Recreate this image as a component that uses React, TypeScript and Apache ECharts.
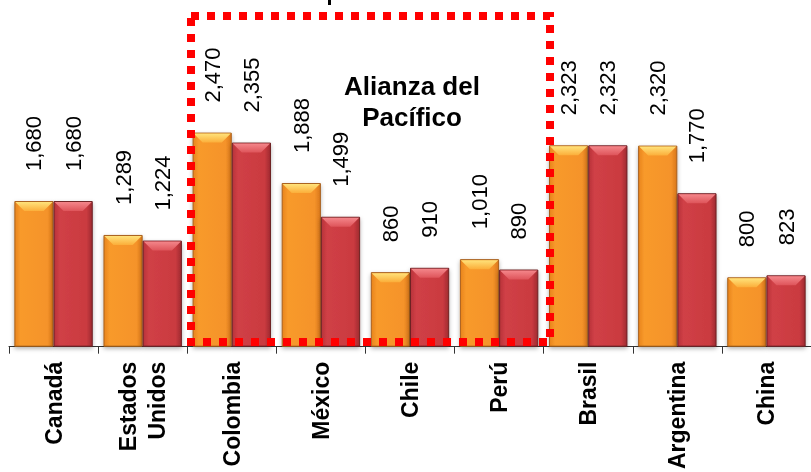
import React, { useEffect, useRef } from "react";
import * as echarts from "echarts";

const categories = ["Canadá", "Estados Unidos", "Colombia", "México", "Chile", "Perú", "Brasil", "Argentina", "China"];
const seriesA = [1680, 1289, 2470, 1888, 860, 1010, 2323, 2320, 800];
const seriesB = [1680, 1224, 2355, 1499, 910, 890, 2323, 1770, 823];
const groupLabel = "Alianza del\nPacífico";

const FONT = "'Liberation Sans', Arial, sans-serif";

const fmt = (v: number) => v.toLocaleString("en-US");

function bevelSeries(values: number[], side: number, top: string, bottom: string) {
  return {
    type: "custom",
    silent: true,
    z: 5,
    data: values.map((v, i) => [i, v]),
    encode: { x: 0, y: 1 },
    renderItem: (params: any, api: any) => {
      const idx = api.value(0);
      const val = api.value(1);
      const p = api.coord([idx, val]);
      const band = api.size([1, 0])[0];
      const w = band * 0.44;
      const x0 = side < 0 ? p[0] - w : p[0];
      const b = Math.min(10, w / 2);
      const y = p[1];
      return {
        type: "polygon",
        shape: {
          points: [
            [x0 + 1, y + 1],
            [x0 + w - 1, y + 1],
            [x0 + w - b, y + b],
            [x0 + b, y + b],
          ],
        },
        style: {
          fill: new echarts.graphic.LinearGradient(0, 0, 0, 1, [
            { offset: 0, color: top },
            { offset: 1, color: bottom },
          ]),
        },
      };
    },
  };
}

export default function App() {
  const ref = useRef<HTMLDivElement>(null);
  useEffect(() => {
    const chart = echarts.init(ref.current!, undefined, { renderer: "svg" });
    chart.setOption({
      animation: false,
      grid: { left: 9, top: 0, width: 810, height: 347 },
      xAxis: {
        type: "category",
        data: categories,
        axisLine: { lineStyle: { color: "#333", width: 1 } },
        axisTick: { show: true, length: 7, lineStyle: { color: "#333" } },
        axisLabel: {
          interval: 0,
          rotate: 90,
          margin: 15,
          color: "#000",
          fontFamily: FONT,
          fontWeight: "bold",
          fontSize: 23,
          lineHeight: 29,
          formatter: (v: string) => v.replace(" ", "\n"),
        },
      },
      yAxis: {
        type: "value",
        min: 0,
        max: 4000,
        show: false,
        splitLine: { show: false },
      },
      series: [
        {
          name: "Serie A",
          type: "bar",
          data: seriesA,
          barWidth: "44%",
          barGap: "0%",
          itemStyle: {
            color: new echarts.graphic.LinearGradient(0, 0, 1, 0, [
              { offset: 0, color: "#E8841C" },
              { offset: 0.15, color: "#F89A2C" },
              { offset: 0.85, color: "#F5932A" },
              { offset: 1, color: "#D9771A" },
            ]),
            borderColor: "#A8601C",
            borderWidth: 1,
            shadowColor: "rgba(0,0,0,0.3)",
            shadowBlur: 4,
            shadowOffsetY: 2,
          },
          label: {
            show: true,
            position: "top",
            rotate: 90,
            align: "left",
            verticalAlign: "middle",
            distance: 30,
            color: "#000",
            fontFamily: FONT,
            fontSize: 22,
            formatter: (p: any) => fmt(p.value),
          },
        },
        {
          name: "Serie B",
          type: "bar",
          data: seriesB,
          barWidth: "44%",
          barGap: "0%",
          itemStyle: {
            color: new echarts.graphic.LinearGradient(0, 0, 1, 0, [
              { offset: 0, color: "#B8323A" },
              { offset: 0.15, color: "#D04046" },
              { offset: 0.85, color: "#CA3A40" },
              { offset: 1, color: "#9E2A30" },
            ]),
            borderColor: "#6E2024",
            borderWidth: 1,
            shadowColor: "rgba(0,0,0,0.3)",
            shadowBlur: 4,
            shadowOffsetY: 2,
          },
          label: {
            show: true,
            position: "top",
            rotate: 90,
            align: "left",
            verticalAlign: "middle",
            distance: 18,
            offset: [12, 0],
            color: "#000",
            fontFamily: FONT,
            fontSize: 22,
            formatter: (p: any) => fmt(p.value),
          },
        },
        bevelSeries(seriesA, -1, "#FFE27A", "#FBAE3A"),
        bevelSeries(seriesB, 1, "#F4868A", "#DE545A"),
      ],
      graphic: [
        {
          type: "rect",
          z: 100,
          shape: { x: 191, y: 16, width: 359, height: 326 },
          style: { fill: "none", stroke: "#FF0000", lineWidth: 8, lineDash: [8, 8] },
        },
        {
          type: "text",
          z: 100,
          x: 412,
          y: 101,
          style: {
            text: groupLabel,
            align: "center",
            verticalAlign: "middle",
            fill: "#000",
            font: `bold 26px ${FONT}`,
            lineHeight: 31,
          },
        },
        {
          type: "rect",
          z: 100,
          shape: { x: 328, y: 0, width: 3, height: 5 },
          style: { fill: "#000" },
        },
      ],
    });
    return () => chart.dispose();
  }, []);
  return <div ref={ref} style={{ position: "fixed", left: 0, top: 0, width: 811, height: 472 }} />;
}
